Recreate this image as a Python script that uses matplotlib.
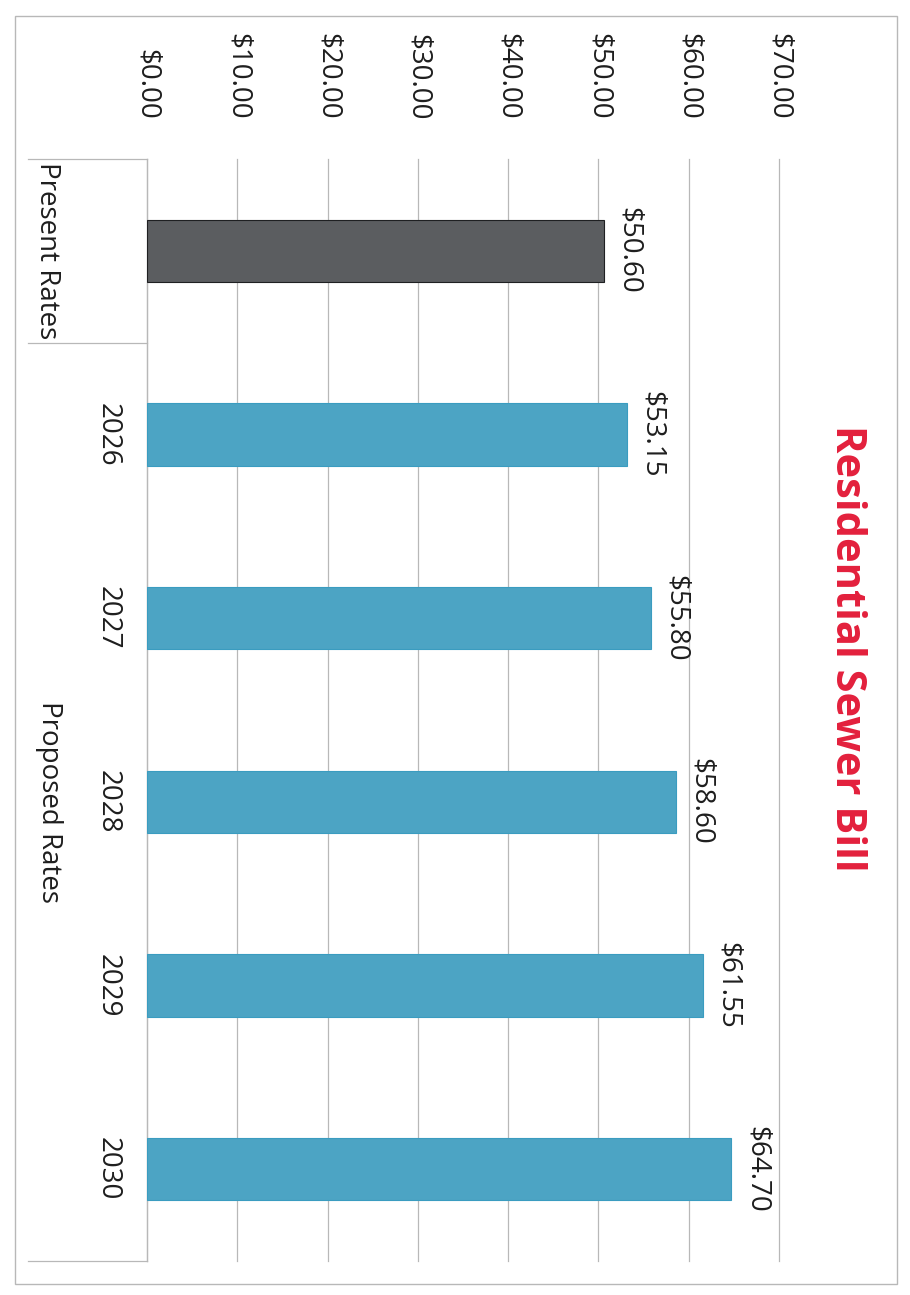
import matplotlib
matplotlib.use("Agg")
import matplotlib.pyplot as plt
from matplotlib.patches import Rectangle
from matplotlib.lines import Line2D
from matplotlib.transforms import blended_transform_factory

# ---- data ----
categories = ["Present Rates", "2026", "2027", "2028", "2029", "2030"]
values = [50.60, 53.15, 55.80, 58.60, 61.55, 64.70]
group_labels = ["Present Rates", "Proposed Rates"]
tick_values = [0, 10, 20, 30, 40, 50, 60, 70]
tick_labels = ["$0.00", "$10.00", "$20.00", "$30.00", "$40.00", "$50.00", "$60.00", "$70.00"]
title = "Residential Sewer Bill"

# ---- style ----
W, H = 910, 1295
FONT = "Open Sans"
TXT = "#1e1e1e"
GRID = "#b8b8b8"
bar_colors = ["#5b5d60"] + ["#4ca4c4"] * 5
edge_colors = ["#1f2022"] + ["#3a9cc0"] * 5

fig = plt.figure(figsize=(W / 100, H / 100), dpi=100)
fig.patch.set_facecolor("white")

def fx(px):
    return px / W

def fy(py):
    return 1 - py / H

# outer chart border
fig.patches.append(Rectangle((fx(15), fy(1284)), fx(897) - fx(15), fy(16) - fy(1284),
                             transform=fig.transFigure, fill=False,
                             edgecolor="#b8b8b8", linewidth=1.0))

ax_l, ax_r, ax_t, ax_b = 147, 779, 159, 1261
ax = fig.add_axes([fx(ax_l), fy(ax_b), fx(ax_r) - fx(ax_l), fy(ax_t) - fy(ax_b)])
ax.set_facecolor("none")

ypos = list(range(len(categories)))
ax.barh(ypos, values, height=0.34, color=bar_colors, edgecolor=edge_colors,
        linewidth=0.8, zorder=3)

ax.set_xlim(tick_values[0], tick_values[-1])
ax.set_ylim(len(categories) - 0.5, -0.5)

ax.xaxis.tick_top()
ax.set_xticks(tick_values)
ax.set_xticklabels(tick_labels, rotation=270, fontsize=20, family=FONT, color=TXT)
ax.tick_params(axis="x", length=0, pad=28)
ax.set_yticks([])
ax.grid(axis="x", color=GRID, linewidth=0.9, zorder=0)
for gl in ax.get_xgridlines():
    gl.set_clip_on(False)

for s in ["top", "right", "bottom"]:
    ax.spines[s].set_visible(False)
ax.spines["left"].set_color(GRID)
ax.spines["left"].set_linewidth(0.9)

# data labels
for i, v in enumerate(values):
    ax.annotate(f"${v:.2f}", xy=(v, i), xytext=(8, 0), textcoords="offset points",
                ha="left", va="center", rotation=270, fontsize=20, family=FONT,
                color=TXT, zorder=4)

# multi-level category labels
tr = blended_transform_factory(fig.transFigure, ax.transData)
for i, c in enumerate(categories):
    if i == 0:
        ax.text(fx(47), i, c, transform=tr, rotation=270, ha="center", va="center",
                fontsize=20, family=FONT, color=TXT)
    else:
        ax.text(fx(108), i, c, transform=tr, rotation=270, ha="center", va="center",
                fontsize=20, family=FONT, color=TXT)
prop_center = sum(ypos[1:]) / len(ypos[1:])
ax.text(fx(49), prop_center, group_labels[1], transform=tr, rotation=270,
        ha="center", va="center", fontsize=20, family=FONT, color=TXT)

for yb in [-0.5, 0.5, len(categories) - 0.5]:
    ln = Line2D([fx(28), fx(ax_l)], [yb, yb], transform=tr, color=GRID,
                linewidth=0.9, clip_on=False)
    ax.add_line(ln)

# title
fig.text(fx(846), fy(648), title, rotation=270, ha="center", va="center",
         fontsize=30, fontweight="bold", family=FONT, color="#e3203c")

fig.savefig("out.png", dpi=100, facecolor="white")
